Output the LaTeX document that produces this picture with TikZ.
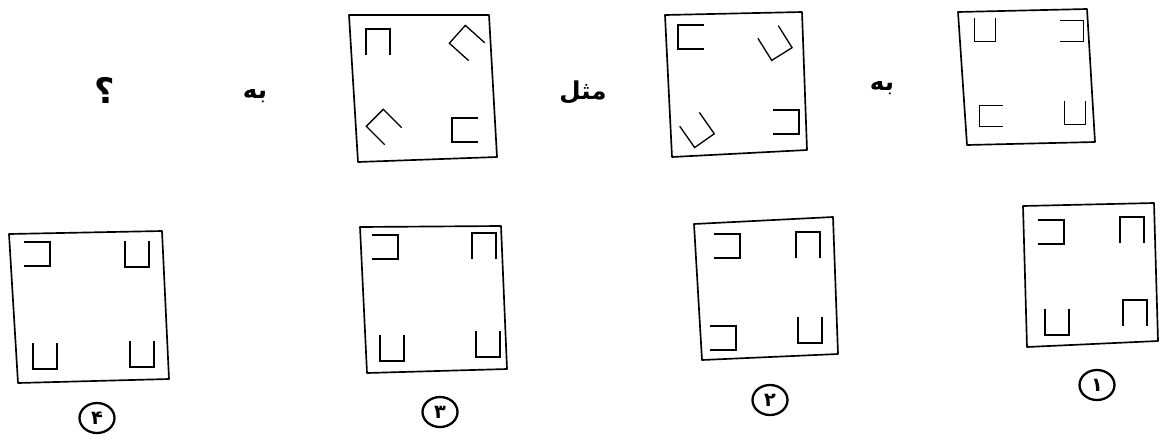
\documentclass[tikz,border=0pt]{standalone}
\usepackage{fontspec}
\usetikzlibrary{shapes.geometric}
\newfontfamily\arabicfont[Script=Arabic]{DejaVu Sans}
\TeXXeTstate=1
\tikzset{
  frame/.style={line width=0.95pt, line join=round},
  bracket/.style={line width=0.75pt},
  cup/.pic={\draw[bracket] (-12,-13) -- (-12,13) -- (12,13) -- (12,-13);},
  word/.style={font=\arabicfont\bfseries\fontsize{14}{17}\selectfont, inner sep=0pt},
  choice/.style={draw, ellipse, line width=1.3pt, minimum width=0.7cm, minimum height=0.6cm,
    inner sep=0pt, font=\arabicfont\bfseries\fontsize{11}{12}\selectfont}
}
\begin{document}
\begin{tikzpicture}[x=0.02cm, y=-0.02cm]
    \useasboundingbox (0,0) rectangle (1163,440);
    \fill[white] (0,0) rectangle (1163,440);
    % top row
    \draw[frame] (958,12) -- (1087,9) -- (1095,142) -- (967,145) -- cycle;
    \pic[scale=0.9] at (985,30) {cup};
    \pic[scale=0.9, rotate=90] at (1072,31) {cup};
    \pic[scale=0.9, rotate=-90] at (991,116) {cup};
    \pic[scale=0.9] at (1075,113) {cup};
    \node[word] (to1) at (882,88) {\beginR به\endR};
    \draw[frame] (665,15) -- (802,12) -- (807,150) -- (672,157) -- cycle;
    \pic[rotate=-90] at (691,37) {cup};
    \pic[rotate=32] at (775,43) {cup};
    \pic[rotate=35] at (697,130) {cup};
    \pic[rotate=90] at (786,122) {cup};
    \node[word] (like) at (583,92) {\beginR مثل\endR};
    \draw[frame] (349,15) -- (489,15) -- (497,157) -- (358,162) -- cycle;
    \pic[rotate=180] at (378,42) {cup};
    \pic[rotate=-132] at (467,43) {cup};
    \pic[rotate=-135] at (384,127) {cup};
    \pic[rotate=-90] at (465,130) {cup};
    \node[word] (to2) at (255,96) {\beginR به\endR};
    \node[word, font=\arabicfont\bfseries\fontsize{20}{24}\selectfont] (ask) at (105,90) {\beginR ؟\endR};
    % answers
    \draw[frame] (1023,206) -- (1154,203) -- (1158,341) -- (1027,347) -- cycle;
    \pic[rotate=90] at (1051,232) {cup};
    \pic[rotate=180] at (1132,230) {cup};
    \pic at (1057,322) {cup};
    \pic[rotate=180] at (1135,313) {cup};
    \node[choice] (c1) at (1097,385) {۱};
    \draw[frame] (694,224) -- (833,217) -- (838,354) -- (702,360) -- cycle;
    \pic[rotate=90] at (727,246) {cup};
    \pic[rotate=180] at (808,245) {cup};
    \pic[rotate=90] at (723,338) {cup};
    \pic at (810,330) {cup};
    \node[choice] (c2) at (770,400) {۲};
    \draw[frame] (360,227) -- (501,226) -- (507,369) -- (367,373) -- cycle;
    \pic[rotate=90] at (385,247) {cup};
    \pic[rotate=180] at (484,246) {cup};
    \pic at (392,348) {cup};
    \pic at (488,344) {cup};
    \node[choice] (c3) at (440,412) {۳};
    \draw[frame] (9,234) -- (162,231) -- (169,379) -- (18,383) -- cycle;
    \pic[rotate=90] at (37,254) {cup};
    \pic at (137,254) {cup};
    \pic at (45,356) {cup};
    \pic at (142,354) {cup};
    \node[choice] (c4) at (97,418) {۴};
\end{tikzpicture}
\end{document}
